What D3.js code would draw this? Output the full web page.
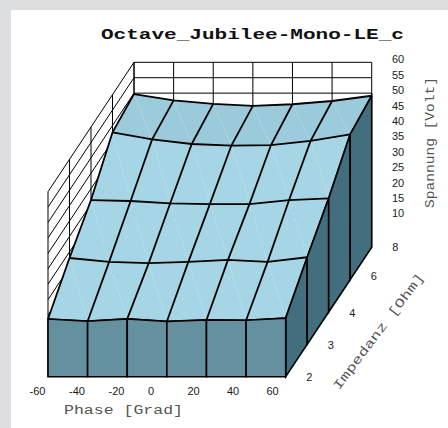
<!DOCTYPE html>
<html><head><meta charset="utf-8">
<script src="https://cdn.jsdelivr.net/npm/d3@7"></script>
<style>
html,body{margin:0;padding:0;background:#fff}
svg{display:block}
</style></head><body>
<svg id="c" width="448" height="428"></svg>
<script>
const title = "Octave_Jubilee-Mono-LE_c";
const xLabel = "Phase [Grad]";
const yLabel = "Impedanz [Ohm]";
const zLabel = "Spannung [Volt]";
const phases = [-60,-40,-20,0,20,40,60];
const impedances = [2,3,4,6,8];
const zTicks = [10,15,20,25,30,35,40,45,50,55,60];
const zGrid = [0,5,10,15,20,25,30,35,40,45,50,55,60];
const voltsImp2 = [18.7,18.0,18.75,17.9,18.4,18.3,19.0];
const voltsImp3 = [28.0,26.75,26.35,26.75,27.4,26.75,28.25];
const voltsImp4 = [36.3,36.0,35.25,35.0,35.0,36.3,36.85];
const voltsImp6 = [47.75,45.5,44.0,43.5,43.65,45.0,47.15];
const voltsImp8 = [49.7,47.65,46.5,45.85,46.4,47.45,49.15];
const rows = [voltsImp2,voltsImp3,voltsImp4,voltsImp6,voltsImp8];

const svg = d3.select("#c");
svg.append("rect").attr("width",448).attr("height",428).attr("fill","#dcdee0");
svg.append("rect").attr("x",11).attr("y",10).attr("width",437).attr("height",418).attr("fill","#fff");

const sx = d3.scalePoint().domain(phases).range([48,285.7]);
const sd = d3.scalePoint().domain(impedances).range([0,1]);
const sz = d3.scaleLinear().domain([0,60]).range([0,185]);
const depthX = 86, depthY = -129.4, baseY = 376.7;
const px = (p,i)=>sx(p)+sd(i)*depthX;
const py = (i,v)=>baseY+sd(i)*depthY-sz(v);
const pt = (p,i,v)=>[px(p,i),py(i,v)];
const line = d3.line();
const closed = pts=>line(pts)+"Z";
const P0=phases[0],P1=phases[phases.length-1],I0=impedances[0],I1=impedances[impedances.length-1];

// walls
const walls = svg.append("g").attr("fill","none").attr("stroke","#000").attr("stroke-width",1);
walls.selectAll(".bz").data(zGrid).join("path").attr("d",z=>line([pt(P0,I1,z),pt(P1,I1,z)]));
walls.selectAll(".bx").data(phases).join("path").attr("d",p=>line([pt(p,I1,0),pt(p,I1,60)]));
walls.selectAll(".lz").data(zGrid).join("path").attr("d",z=>line([pt(P0,I0,z),pt(P0,I1,z)]));
walls.selectAll(".ly").data(impedances).join("path").attr("d",i=>line([pt(P0,i,0),pt(P0,i,60)]));

// surface: flatter facets shade slightly darker
const shade = (a,b,c)=>{
  const u=[b[0]-a[0],b[1]-a[1],b[2]-a[2]], v=[c[0]-a[0],c[1]-a[1],c[2]-a[2]];
  const n=[u[1]*v[2]-u[2]*v[1],u[2]*v[0]-u[0]*v[2],u[0]*v[1]-u[1]*v[0]];
  const t=Math.abs(n[2])/Math.hypot(n[0],n[1],n[2]);
  return d3.interpolateRgb("#a6d6e6","#9bcadb")(Math.min(1,Math.max(0,(t-0.88)/0.1)));
};
const surf = svg.append("g");
const w=(k,r)=>[sx(phases[k]),r*40,sz(rows[r][k])];
for(let r=rows.length-2;r>=0;r--){
  for(let k=0;k<phases.length-1;k++){
    const a=pt(phases[k],impedances[r+1],rows[r+1][k]);
    const b=pt(phases[k+1],impedances[r+1],rows[r+1][k+1]);
    const c=pt(phases[k+1],impedances[r],rows[r][k+1]);
    const d=pt(phases[k],impedances[r],rows[r][k]);
    const f1=shade(w(k,r+1),w(k+1,r+1),w(k+1,r)), f2=shade(w(k,r+1),w(k+1,r),w(k,r));
    surf.append("path").attr("d",closed([a,b,c])).attr("fill",f1).attr("stroke",f1).attr("stroke-width",0.5);
    surf.append("path").attr("d",closed([a,c,d])).attr("fill",f2).attr("stroke",f2).attr("stroke-width",0.5);
    surf.append("path").attr("d",line([a,c])).attr("stroke","#c4e3ee").attr("stroke-width",0.6).attr("stroke-dasharray","1.5 1.5").attr("fill","none");
  }
}
// surface mesh
const mesh = svg.append("g").attr("fill","none").attr("stroke","#000").attr("stroke-width",1.8);
rows.forEach((vals,r)=>{
  mesh.append("path").attr("d",line(phases.map((p,k)=>pt(p,impedances[r],vals[k]))));
});
phases.forEach((p,k)=>{
  mesh.append("path").attr("d",line(impedances.map((i,r)=>pt(p,i,rows[r][k]))));
});
// right side
const side = svg.append("g");
for(let r=0;r<impedances.length-1;r++){
  const q=[pt(P1,impedances[r],rows[r][6]),pt(P1,impedances[r+1],rows[r+1][6]),pt(P1,impedances[r+1],0),pt(P1,impedances[r],0)];
  side.append("path").attr("d",closed(q)).attr("fill","#426e7e").attr("stroke","#000").attr("stroke-width",1.6);
}
// front side
const front = svg.append("g");
for(let k=0;k<phases.length-1;k++){
  const q=[pt(phases[k],I0,voltsImp2[k]),pt(phases[k+1],I0,voltsImp2[k+1]),pt(phases[k+1],I0,0),pt(phases[k],I0,0)];
  front.append("path").attr("d",closed(q)).attr("fill","#65909f").attr("stroke","#000").attr("stroke-width",1.6);
}

// tick labels via axes
const font="'Liberation Sans',Arial,sans-serif";
const xAxisScale = d3.scalePoint().domain(phases).range([29,266]);
const gx = svg.append("g").attr("transform","translate(0,395)")
  .call(d3.axisBottom(xAxisScale).tickSize(0).tickPadding(0));
gx.select(".domain").remove();
gx.selectAll("text").attr("text-anchor","start").attr("y",0).attr("dy",0)
  .attr("font-family",font).attr("font-size",11).attr("fill","#1a1a1a").text(d=>String(d));

const zAxisScale = d3.scaleLinear().domain([0,60]).range([243.6,59]);
const gz = svg.append("g").attr("transform","translate(392,0)")
  .call(d3.axisRight(zAxisScale).tickValues(zTicks).tickSize(0).tickPadding(0));
gz.select(".domain").remove();
gz.selectAll("text").attr("x",0).attr("dy","0.36em").attr("text-anchor","start")
  .attr("font-family",font).attr("font-size",11).attr("fill","#1a1a1a");

const gi = svg.append("g");
gi.selectAll("text").data(impedances).join("text")
  .attr("x",i=>px(P1,i)+20.5)
  .attr("y",i=>baseY+sd(i)*depthY+(i===6?0:i===8?4:4.5))
  .attr("text-anchor","start").attr("font-family",font).attr("font-size",11).attr("fill","#1a1a1a")
  .text(d=>d);

const mono="'Liberation Mono','Courier New',monospace";
svg.append("text").attr("x",101).attr("y",39).attr("font-family",mono).attr("font-weight","bold")
  .attr("font-size",15).attr("textLength",303).attr("lengthAdjust","spacingAndGlyphs").attr("fill","#111").text(title);
svg.append("text").attr("x",64).attr("y",414).attr("font-family",mono)
  .attr("font-size",12.5).attr("textLength",119).attr("lengthAdjust","spacingAndGlyphs").attr("fill","#555").text(xLabel);
svg.append("text").attr("transform","translate(433.5,208) rotate(-90)").attr("font-family",mono)
  .attr("font-size",12.5).attr("textLength",131).attr("lengthAdjust","spacingAndGlyphs").attr("fill","#555").text(zLabel);
svg.append("text").attr("transform","translate(339,390.5) rotate(-53)").attr("font-family",mono)
  .attr("font-size",12.5).attr("textLength",142).attr("lengthAdjust","spacingAndGlyphs").attr("fill","#555").text(yLabel);
</script></body></html>
